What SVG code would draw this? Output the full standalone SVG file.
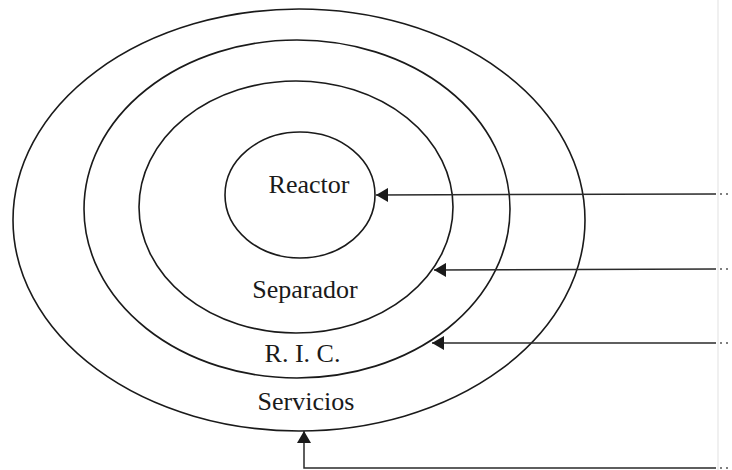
<svg xmlns="http://www.w3.org/2000/svg" width="732" height="470" viewBox="0 0 732 470">
<defs>
<style>
.ring{fill:none;stroke:#1a1a1a;stroke-width:1.6}
.lbl{font-family:"Liberation Serif","Times New Roman",serif;font-size:26px;fill:#1a1a1a;text-anchor:middle}
.conn{fill:none;stroke:#2a2a2a;stroke-width:1.5}
.dots{fill:none;stroke:#555;stroke-width:1.5;stroke-dasharray:2 4}
</style>
<marker id="ah" viewBox="0 0 12 14" refX="12" refY="7" markerWidth="12" markerHeight="14" markerUnits="userSpaceOnUse" orient="auto">
<path d="M0,0 L12,7 L0,14 Z" fill="#1a1a1a"/>
</marker>
</defs>
<rect width="732" height="470" fill="#ffffff"/>
<line x1="718" y1="0" x2="718" y2="470" stroke="#f0f0f0" stroke-width="2"/>
<g id="servicios">
<ellipse class="ring" cx="299" cy="220" rx="286" ry="211"/>
<text class="lbl" x="306" y="410">Servicios</text>
</g>
<g id="ric">
<ellipse class="ring" cx="297" cy="209" rx="213" ry="169"/>
<text class="lbl" x="302.5" y="362">R. I. C.</text>
</g>
<g id="separador">
<ellipse class="ring" cx="296" cy="207" rx="157" ry="126"/>
<text class="lbl" x="305" y="298">Separador</text>
</g>
<g id="reactor">
<ellipse class="ring" cx="300" cy="195" rx="75" ry="63"/>
<text class="lbl" x="309" y="193">Reactor</text>
</g>
<g id="connectors">
<polyline class="conn" points="716,194 376,195" marker-end="url(#ah)"/>
<polyline class="conn" points="716,269 434,270" marker-end="url(#ah)"/>
<polyline class="conn" points="716,343 432,343" marker-end="url(#ah)"/>
<polyline class="conn" points="716,468 304,468 304,431" marker-end="url(#ah)"/>
<line class="dots" x1="720" y1="194" x2="732" y2="194"/>
<line class="dots" x1="720" y1="269" x2="732" y2="269"/>
<line class="dots" x1="720" y1="343" x2="732" y2="343"/>
<line class="dots" x1="720" y1="468" x2="732" y2="468"/>
</g>
</svg>
